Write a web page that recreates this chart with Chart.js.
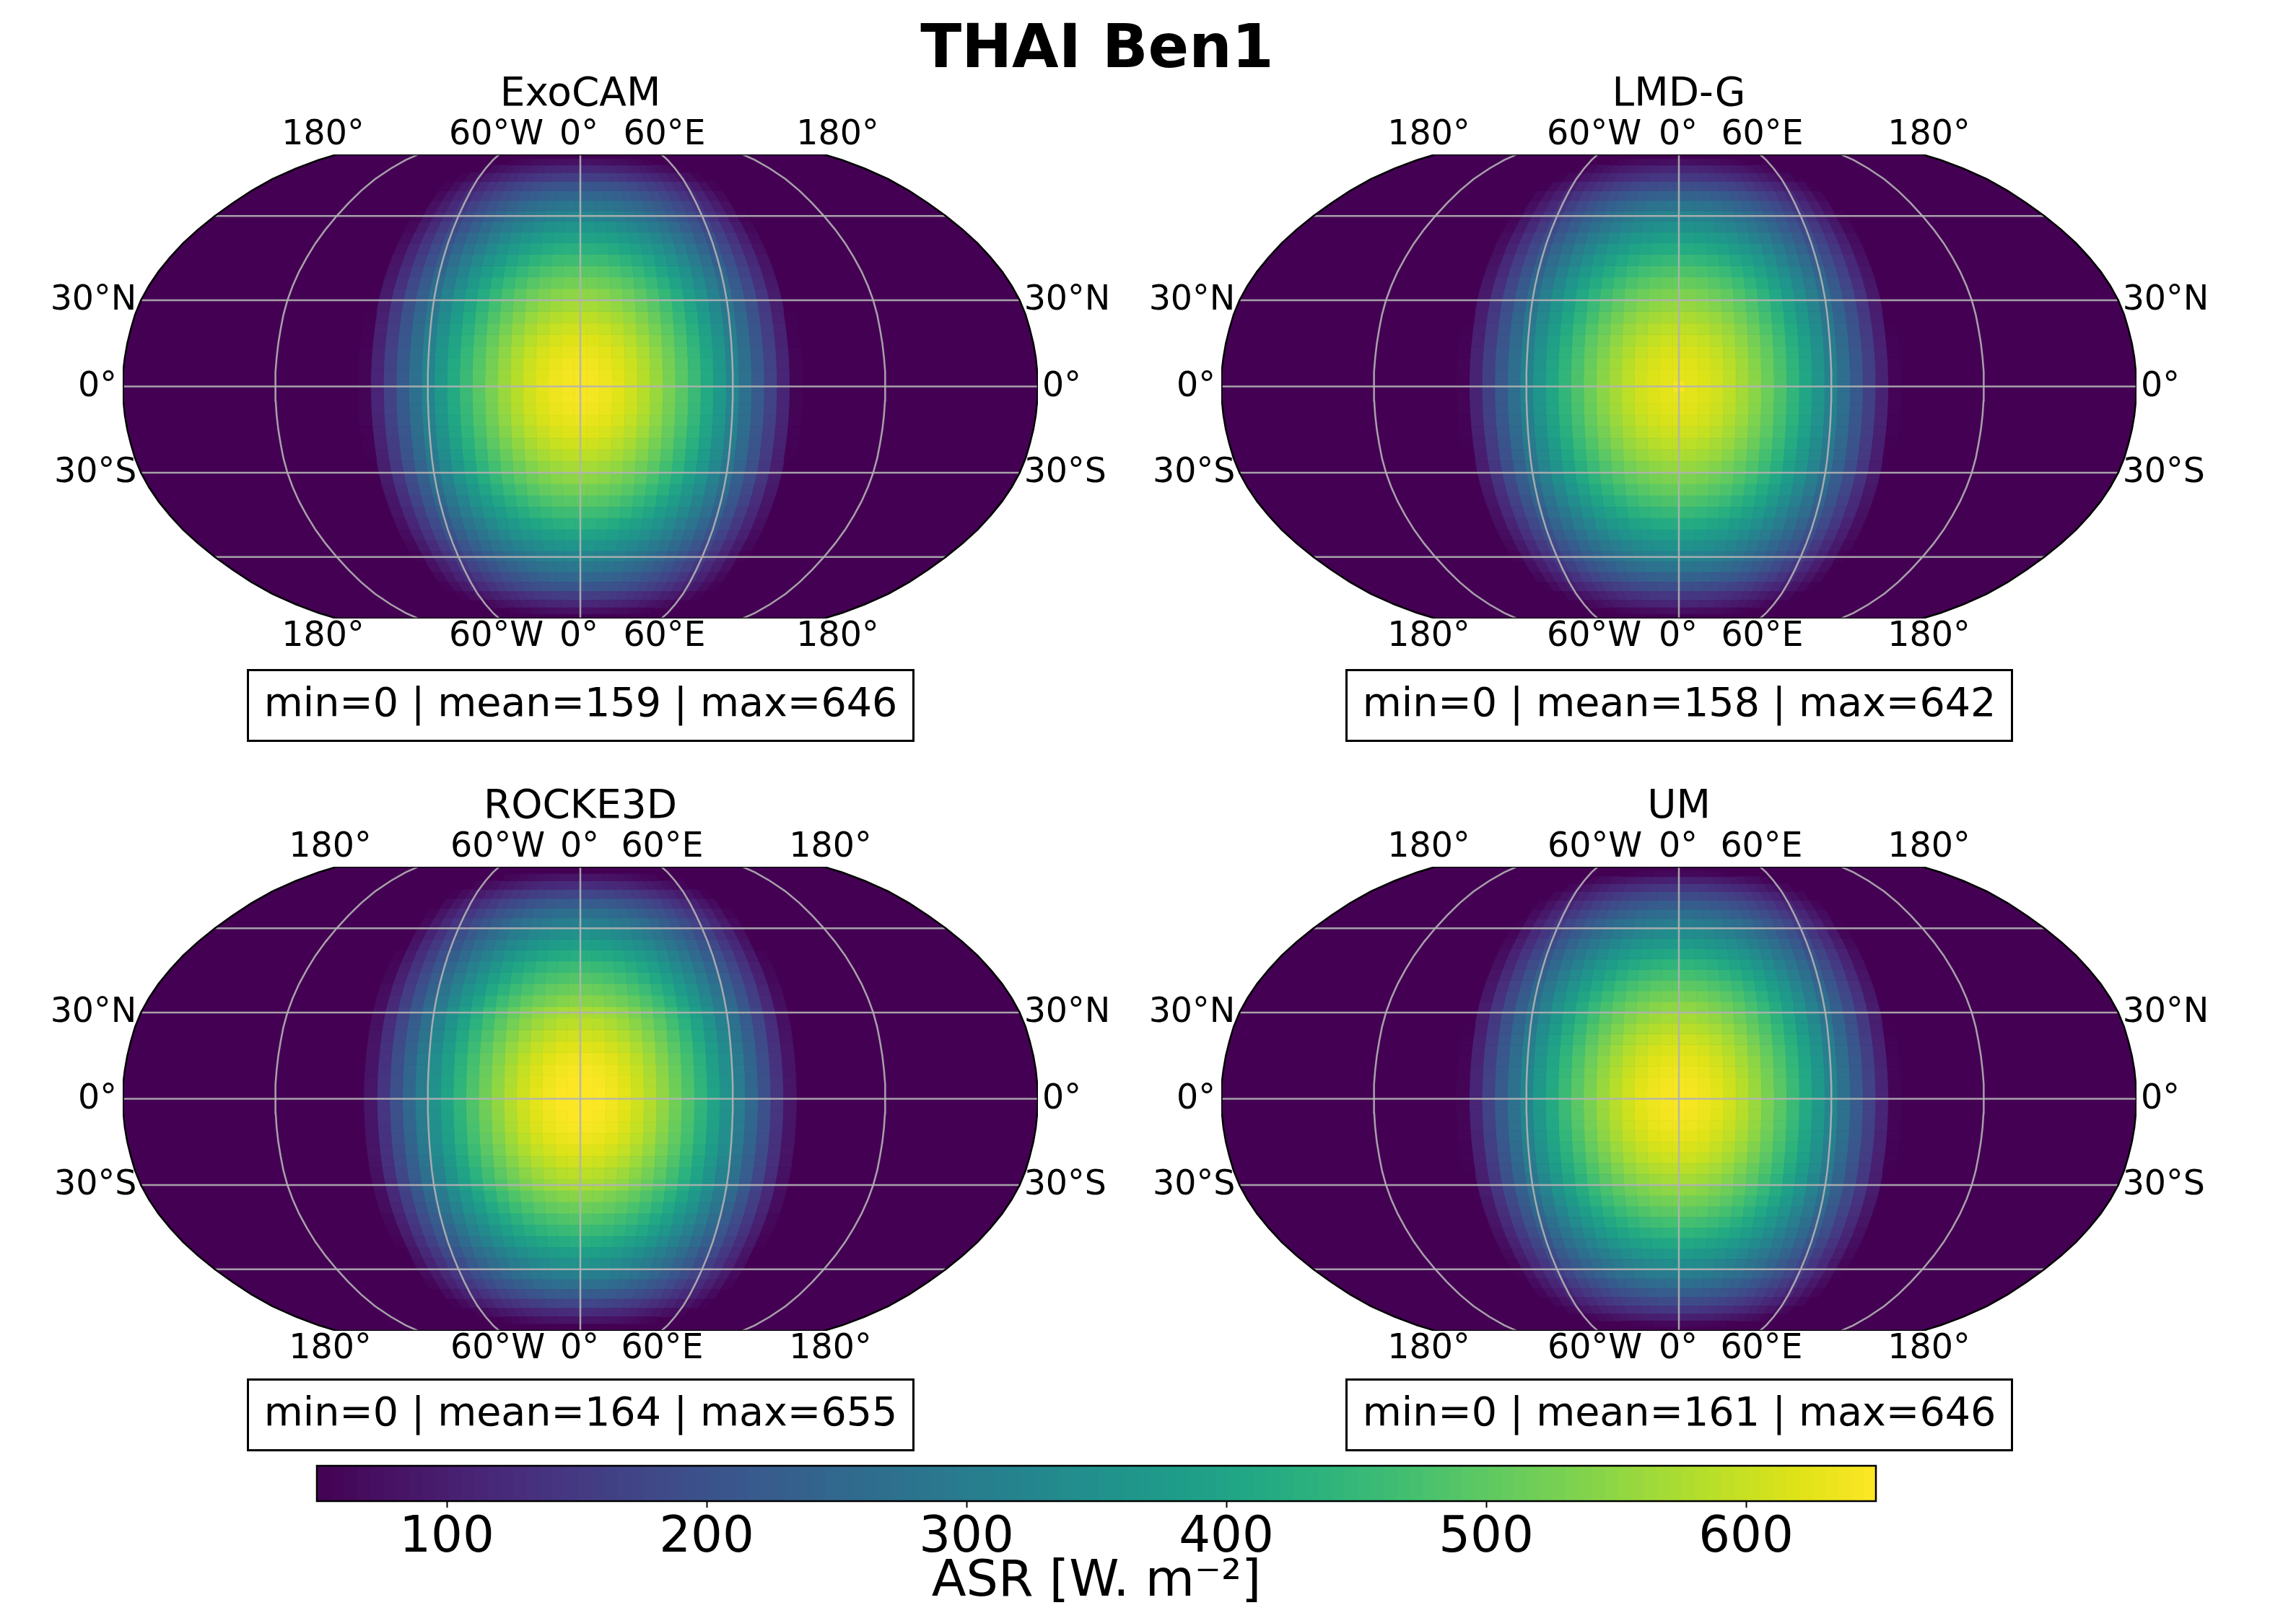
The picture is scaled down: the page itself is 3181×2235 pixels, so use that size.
<!DOCTYPE html>
<html>
<head>
<meta charset="utf-8">
<script src="https://cdn.jsdelivr.net/npm/chart.js@4/dist/chart.umd.min.js"></script>
<style>
  body { margin: 0; background: #fff; width: 3181px; height: 2235px; overflow: hidden; font-family: "DejaVu Sans"; position: relative; }
  canvas { position: absolute; }
  .txt { position: absolute; text-align: center; color: #000; white-space: nowrap; }
  .stat { box-sizing: border-box; border: 3px solid #000; font-size: 55.5px; line-height: 86px; }
</style>
</head>
<body>
<div class="txt" style="left:0;width:3040px;top:14px;font-size:83.5px;font-weight:bold;line-height:100px">THAI Ben1</div>

<script>
// Axis values of the tables below (only one quarter of each map is listed, the maps are mirrored)
var lons5 = [0, 5, 10, 15, 20, 25, 30, 35, 40, 45, 50, 55, 60, 65, 70, 75, 80, 85];
var lats4 = [0, 4, 8, 12, 16, 20, 24, 28, 32, 36, 40, 44, 48, 52, 56, 60, 64, 68, 72, 76, 80, 84];
var rockeLons = [2.5, 7.5, 12.5, 17.5, 22.5, 27.5, 32.5, 37.5, 42.5, 47.5, 52.5, 57.5, 62.5, 67.5, 72.5, 77.5, 82.5, 87.5];
var rockeLats = [2, 6, 10, 14, 18, 22, 26, 30, 34, 38, 42, 46, 50, 54, 58, 62, 66, 70, 74, 78, 82];
var umLats = [1.875, 5.625, 9.375, 13.125, 16.875, 20.625, 24.375, 28.125, 31.875, 35.625, 39.375, 43.125, 46.875, 50.625, 54.375, 58.125, 61.875, 65.625, 69.375, 73.125, 76.875, 80.625, 84.375];

// ASR, one row per latitude, missing cells are below the colour range
var asrExoCAM = [
  [646,643,636,624,607,585,559,529,495,457,415,371,323,273,221,167,112,56],
  [644,641,634,622,605,583,558,527,493,455,414,370,322,272,220,167,112,56],
  [640,637,630,618,602,580,554,524,490,452,412,367,320,271,219,166,111,56],
  [632,629,623,611,594,573,547,518,484,447,406,363,316,267,216,164,110,55],
  [621,619,612,600,584,563,538,509,476,439,399,356,311,263,212,161,108,54],
  [607,605,598,586,571,550,526,497,465,429,390,348,304,257,208,157,106,53],
  [590,588,581,570,555,535,511,483,452,417,379,339,295,250,202,153,103,51],
  [570,568,561,551,536,516,494,467,437,403,367,327,285,241,195,148,99],
  [548,546,540,529,515,496,475,449,420,387,352,315,274,232,187,142,95],
  [523,521,515,505,492,474,453,428,401,370,336,300,262,221,179,135,91],
  [495,493,488,478,465,448,429,405,379,350,318,284,248,209,169,128,86],
  [465,463,458,449,437,421,403,381,356,329,299,267,233,197,159,120,81],
  [432,430,426,417,406,391,374,354,331,305,278,248,216,183,148,112,75],
  [398,396,392,384,374,361,345,326,305,281,256,228,199,168,136,103,69],
  [361,360,356,349,339,327,313,296,277,255,232,207,181,153,123,94,63],
  [323,322,318,312,304,293,280,265,247,228,208,185,162,137,110,84,56],
  [290,288,285,279,272,262,250,237,222,205,186,166,145,122,99,75],
  [250,248,246,241,235,226,216,204,191,177,161,143,125,106,85,65],
  [212,210,208,204,199,192,183,173,162,150,136,122,106,90,72,55],
  [160,159,158,155,150,145,139,131,122,113,103,92,80,68,55],
  [118,118,116,114,111,107,102,97,90,83,76,68,59],
  [78,78,77,75,73,71,68,64,60,55]
];
var asrLMDG = [
  [642,626,619,608,591,569,545,515,482,445,405,362,315,266,216,163,110,55],
  [627,624,617,606,589,567,544,514,480,443,404,361,314,265,215,163,109,55],
  [623,620,613,602,586,564,540,511,477,440,402,358,312,264,214,162,108,55],
  [615,613,607,595,578,559,533,505,471,435,396,354,308,260,211,160,107,54],
  [605,603,596,584,568,549,524,496,464,427,389,347,303,256,207,157,105,53],
  [591,589,582,570,557,536,513,484,453,417,380,339,296,250,203,153,103,52],
  [574,572,566,556,541,521,498,470,440,406,369,330,287,243,197,149,100,50],
  [556,554,547,537,522,503,481,455,425,393,358,319,277,235,190,144,96],
  [534,532,526,515,502,483,463,437,409,377,343,307,267,226,182,138,92],
  [510,508,502,492,479,462,441,417,391,361,327,292,255,216,174,131,88],
  [482,480,475,466,453,436,417,395,369,341,310,276,241,204,165,124,83],
  [453,451,446,437,425,410,393,371,347,320,291,260,227,192,155,117,79],
  [420,418,415,406,396,381,365,345,322,297,270,242,211,178,144,109,74],
  [388,386,382,374,365,352,336,318,297,273,249,222,194,164,132,100,68],
  [352,351,347,340,330,319,305,288,270,248,226,202,176,149,120,91,62],
  [321,320,316,310,302,291,278,263,245,227,207,184,161,136,109,83,56],
  [284,283,280,274,267,257,246,233,218,201,183,163,142,120,97,74],
  [241,240,237,233,226,218,209,197,184,170,155,138,120,101,82,63],
  [195,194,192,188,183,176,169,160,149,137,125,112,97,82,67,51],
  [148,147,146,143,139,134,128,121,113,104,95,85,74,63,51],
  [113,113,111,109,106,102,98,93,87,80,73,65,57],
  [75,75,74,72,70,68,65,61,57,53]
];
var asrROCKE3D = [
  [654,649,639,625,605,581,552,519,483,443,399,352,303,251,197,141,86],
  [650,645,635,621,602,577,549,516,480,440,396,350,301,249,196,141,85],
  [644,639,630,615,596,572,544,511,475,436,393,346,298,247,194,139,84],
  [635,630,621,607,588,564,536,504,469,430,387,342,294,244,191,137,83],
  [622,617,608,594,576,553,525,494,459,421,379,335,288,239,188,135,82],
  [606,602,592,579,561,538,512,481,447,410,370,326,280,232,183,131,80],
  [588,584,575,562,544,522,497,467,434,398,359,316,272,226,177,127,77],
  [572,568,559,547,530,509,483,455,422,387,349,307,265,219,173,123,75],
  [542,538,530,518,502,482,458,431,400,367,331,292,251,208,163,117,71],
  [515,511,504,492,477,458,435,409,380,349,314,277,238,198,155,111,68],
  [487,483,475,465,450,432,411,386,359,329,297,262,225,187,147,105,64],
  [458,454,447,437,423,407,387,364,337,310,279,246,212,175,138,99,60],
  [424,420,414,405,392,376,358,337,312,287,258,228,197,162,128,92,55],
  [388,385,379,370,359,344,328,307,286,262,236,209,179,148,117,84,50],
  [353,350,345,337,327,313,298,280,261,239,215,189,163,135,106,76],
  [310,307,303,296,287,275,262,246,228,210,189,167,143,119,93,67],
  [270,268,264,258,250,240,228,214,199,183,165,145,125,104,81,58],
  [225,223,220,215,208,200,190,179,166,152,137,121,104,86,67],
  [176,174,172,168,163,157,149,140,130,119,107,95,82,67,53],
  [126,125,123,120,117,112,107,100,93,85,77,68,58],
  [84,83,82,80,78,75,71,67,62,57]
];
var asrUM = [
  [646,643,636,624,607,585,559,529,495,457,415,371,323,273,221,167,112,56],
  [643,640,633,621,604,583,557,527,493,455,413,369,322,272,220,167,112,56],
  [637,634,627,615,599,577,552,522,488,450,410,366,319,269,218,165,111,55],
  [629,626,620,608,591,570,545,515,482,445,404,361,315,266,215,163,109,55],
  [618,616,609,597,581,560,535,506,473,437,397,355,309,261,211,160,108,54],
  [605,603,596,584,569,548,524,495,463,428,389,347,303,256,207,157,105,53],
  [588,586,579,568,553,533,509,482,450,416,378,338,294,249,201,152,102,51],
  [570,568,561,551,536,516,494,467,437,403,367,327,285,241,195,148,99],
  [549,547,541,530,516,497,475,450,421,388,353,315,275,232,188,142,96],
  [525,523,517,507,494,476,455,430,402,371,338,301,263,222,180,136,91],
  [500,498,493,483,470,453,433,410,383,354,322,287,250,212,171,130,87],
  [471,469,464,455,443,427,408,386,361,333,303,270,236,199,161,122,82],
  [442,440,435,427,415,400,383,362,339,312,284,254,221,187,151,114,77],
  [410,408,404,396,385,371,355,336,314,290,264,235,205,173,140,106,71],
  [376,374,370,363,353,341,326,308,288,266,242,216,188,159,129,97,65],
  [341,340,336,329,321,309,295,279,261,241,219,196,171,144,117,88,59],
  [305,304,300,295,287,276,264,250,234,216,196,175,153,129,104,79,53],
  [267,266,263,258,251,242,231,219,205,189,172,153,134,113,91,69],
  [228,227,225,220,214,207,197,187,175,161,147,131,114,96,78,59],
  [187,186,184,181,176,169,162,153,143,132,120,107,94,79,64],
  [147,146,145,142,138,133,127,120,113,104,95,84,74,62],
  [105,105,103,101,99,95,91,86,80,74,68,60,53],
  [63,63,62,61,59,57,55,52]
];

var gridLats = [-60, -30, 0, 30, 60];
var gridLons = [-120, -60, 0, 60, 120];
var cbTicks = [100, 200, 300, 400, 500, 600];
var vmin = 50, vmax = 650;

// Robinson table, every 5 degrees from the equator to the pole
var robX = [1, .9986, .9954, .99, .9822, .973, .96, .9427, .9216, .8962, .8679, .835, .7986, .7597, .7186, .6732, .6213, .5722, .5322];
var robY = [0, .062, .124, .186, .248, .31, .372, .434, .4958, .5571, .6176, .6769, .7346, .7903, .8435, .8936, .9394, .9761, 1];

var viridis = ['#440154','#471365','#482475','#463480','#414487','#3b528b','#355f8d','#2f6c8e','#2a788e','#25848e','#21918c','#1e9c89','#22a884','#2fb47c','#44bf70','#5ec962','#7ad151','#9bd93c','#bddf26','#dfe318','#fde725'];

function hex(c) { return [parseInt(c.substr(1, 2), 16), parseInt(c.substr(3, 2), 16), parseInt(c.substr(5, 2), 16)]; }

function colourOf(v) {
    var t = Math.max(0, Math.min(1, (v - vmin) / (vmax - vmin))) * (viridis.length - 1);
    var i = Math.min(Math.floor(t), viridis.length - 2), f = t - i;
    var a = hex(viridis[i]), b = hex(viridis[i + 1]);
    return 'rgb(' + [0, 1, 2].map(function (k) { return Math.round(a[k] + (b[k] - a[k]) * f); }).join(',') + ')';
}

function robinson(lon, lat) {
    var p = Math.min(Math.abs(lat) / 5, 17.999), i = Math.floor(p), f = p - i;
    var px = robX[i] + (robX[i + 1] - robX[i]) * f;
    var py = robY[i] + (robY[i + 1] - robY[i]) * f;
    return { x: px * lon / 180, y: lat < 0 ? -py : py };
}

// Builds the cells of a whole map from its quarter table
function buildCells(rows, lons, lats, dLon, dLat) {
    var cells = [];
    rows.forEach(function (row, j) {
        row.forEach(function (v, i) {
            [1, -1].forEach(function (sy) {
                if (sy < 0 && lats[j] === 0) return;
                [1, -1].forEach(function (sx) {
                    if (sx < 0 && lons[i] === 0) return;
                    var lon = sx * lons[i], lat = sy * lats[j];
                    var c = robinson(lon, lat);
                    cells.push({ x: c.x, y: c.y, v: v, lon: lon, lat: lat, dLon: dLon / 2, dLat: dLat / 2 });
                });
            });
        });
    });
    return cells;
}

function latLine(lat) {
    var pts = [];
    for (var lon = -180; lon <= 180; lon += 60) pts.push(robinson(lon, lat));
    return pts;
}
function lonLine(lon) {
    var pts = [];
    for (var lat = -90; lat <= 90; lat += 5) pts.push(robinson(lon, lat));
    return pts;
}
function outline() {
    return lonLine(-180).concat(lonLine(180).reverse(), [robinson(-180, -90)]);
}

// Draws the dark disc and the cells under the grid lines
var cellPlugin = {
    id: 'cellPlugin',
    beforeDatasetsDraw: function (chart) {
        var ctx = chart.ctx, sx = chart.scales.x, sy = chart.scales.y;
        function pt(lon, lat) {
            var p = robinson(lon, Math.max(-90, Math.min(90, lat)));
            return [sx.getPixelForValue(p.x), sy.getPixelForValue(p.y)];
        }
        ctx.save();
        ctx.beginPath();
        chart.data.datasets[1].data.forEach(function (p, i) {
            var x = sx.getPixelForValue(p.x), y = sy.getPixelForValue(p.y);
            if (i === 0) ctx.moveTo(x, y); else ctx.lineTo(x, y);
        });
        ctx.fillStyle = colourOf(0);
        ctx.fill();
        ctx.lineWidth = 0.8;
        chart.data.datasets[0].data.forEach(function (c) {
            var col = colourOf(c.v);
            var a = pt(c.lon - c.dLon, c.lat - c.dLat), b = pt(c.lon + c.dLon, c.lat - c.dLat);
            var d = pt(c.lon + c.dLon, c.lat + c.dLat), e = pt(c.lon - c.dLon, c.lat + c.dLat);
            ctx.beginPath();
            ctx.moveTo(a[0], a[1]); ctx.lineTo(b[0], b[1]); ctx.lineTo(d[0], d[1]); ctx.lineTo(e[0], e[1]);
            ctx.closePath();
            ctx.fillStyle = col; ctx.strokeStyle = col;
            ctx.fill(); ctx.stroke();
        });
        ctx.restore();
    }
};

// The cartopy style labels round the map
function labelPlugin(dx) {
    var topLabels = [['180\u00b0', -180], ['60\u00b0W', -60], ['0\u00b0', 0], ['60\u00b0E', 60], ['180\u00b0', 180]];
    var sideLabels = [['30\u00b0N', 30], ['0\u00b0', 0], ['30\u00b0S', -30]];
    return {
        id: 'labelPlugin',
        afterDraw: function (chart) {
            var ctx = chart.ctx, sx = chart.scales.x, sy = chart.scales.y;
            ctx.save();
            ctx.fillStyle = '#000';
            ctx.font = '47.5px "DejaVu Sans"';
            ctx.textBaseline = 'middle';
            ctx.textAlign = 'center';
            topLabels.forEach(function (l, i) {
                var p = robinson(l[1], 90), x = sx.getPixelForValue(p.x) + dx[i];
                ctx.fillText(l[0], x, sy.getPixelForValue(1) - 26);
                ctx.fillText(l[0], x, sy.getPixelForValue(-1) + 26);
            });
            sideLabels.forEach(function (l) {
                var p = robinson(180, l[1]), y = sy.getPixelForValue(p.y) + 1;
                ctx.textAlign = 'right';
                ctx.fillText(l[0], sx.getPixelForValue(-p.x) - (l[1] === 0 ? 8 : 6), y);
                ctx.textAlign = 'left';
                ctx.fillText(l[0], sx.getPixelForValue(p.x) + (l[1] === 0 ? 6 : 6), y);
            });
            ctx.restore();
        }
    };
}

function makePanel(opt) {
    var cv = document.createElement('canvas');
    var padX = 110, w = 1268 + 2 * padX, h = 830;
    var left = opt.cx - 634 - padX, top = opt.cy - 321.5 - 124;
    cv.width = w; cv.height = h;
    cv.style.left = left + 'px'; cv.style.top = top + 'px';
    document.body.appendChild(cv);

    var datasets = [
        { data: buildCells(opt.rows, opt.lons, opt.lats, opt.dLon, opt.dLat), pointRadius: 0, showLine: false },
        { data: outline(), pointRadius: 0, showLine: true, borderColor: '#000', borderWidth: 2.5, fill: false, tension: 0 }
    ];
    gridLats.forEach(function (lat) {
        datasets.push({ data: latLine(lat), pointRadius: 0, showLine: true, borderColor: 'rgba(178,178,178,0.9)', borderWidth: 2.5 });
    });
    gridLons.forEach(function (lon) {
        datasets.push({ data: lonLine(lon), pointRadius: 0, showLine: true, borderColor: 'rgba(178,178,178,0.9)', borderWidth: 2.5 });
    });

    new Chart(cv, {
        type: 'scatter',
        data: { datasets: datasets },
        options: {
            responsive: false,
            animation: false,
            devicePixelRatio: 1,
            events: [],
            layout: { padding: { left: padX, right: padX, top: 0, bottom: h - 124 - 643 } },
            plugins: {
                legend: { display: false },
                tooltip: { enabled: false },
                title: {
                    display: true,
                    text: opt.title,
                    color: '#000',
                    font: { family: '"DejaVu Sans"', size: 55, weight: 'normal', lineHeight: 1.2 },
                    padding: { top: 9, bottom: 124 - 9 - 66 }
                }
            },
            scales: {
                x: { type: 'linear', min: -1, max: 1, display: false },
                y: { type: 'linear', min: -1, max: 1, display: false }
            }
        },
        plugins: [cellPlugin, labelPlugin(opt.dx)]
    });

    var box = document.createElement('div');
    box.className = 'txt stat';
    box.textContent = opt.stat;
    box.style.left = (opt.cx - 462) + 'px';
    box.style.width = '925px';
    box.style.top = opt.boxTop + 'px';
    box.style.height = '101px';
    document.body.appendChild(box);
}

makePanel({ title: 'ExoCAM', stat: 'min=0 | mean=159 | max=646', rows: asrExoCAM, lons: lons5, lats: lats4, dLon: 5, dLat: 4, cx: 804, cy: 535.5, boxTop: 927, dx: [-19, -4, -2, 4, 19] });
makePanel({ title: 'LMD-G', stat: 'min=0 | mean=158 | max=642', rows: asrLMDG, lons: lons5, lats: lats4, dLon: 5, dLat: 4, cx: 2326, cy: 535.5, boxTop: 927, dx: [-9, -5, -1, 3, 9] });
makePanel({ title: 'ROCKE3D', stat: 'min=0 | mean=164 | max=655', rows: asrROCKE3D, lons: rockeLons, lats: rockeLats, dLon: 5, dLat: 4, cx: 804, cy: 1522.5, boxTop: 1910, dx: [-9, -2, -1, 1, 9] });
makePanel({ title: 'UM', stat: 'min=0 | mean=161 | max=646', rows: asrUM, lons: lons5, lats: umLats, dLon: 5, dLat: 3.75, cx: 2326, cy: 1522.5, boxTop: 1910, dx: [-9, -4, -1, 2, 9] });

// Colour bar, one floating bar per colour step on a real value axis
var cbCanvas = document.createElement('canvas');
cbCanvas.width = 2360; cbCanvas.height = 215;
cbCanvas.style.left = '339px'; cbCanvas.style.top = '2020px';
document.body.appendChild(cbCanvas);

var cbSets = [];
for (var lv = vmin; lv < vmax; lv += 5) {
    cbSets.push({ data: [[lv, lv + 5.5]], backgroundColor: colourOf(lv + 2.5), borderWidth: 0, barPercentage: 1, categoryPercentage: 1, grouped: false });
}

new Chart(cbCanvas, {
    type: 'bar',
    data: { labels: ['ASR'], datasets: cbSets },
    options: {
        indexAxis: 'y',
        responsive: false,
        animation: false,
        devicePixelRatio: 1,
        events: [],
        layout: { padding: { left: 100, right: 100, top: 11, bottom: 0 } },
        plugins: { legend: { display: false }, tooltip: { enabled: false } },
        scales: {
            x: {
                type: 'linear',
                min: vmin,
                max: vmax,
                afterFit: function (s) { s.height = 155; },
                afterBuildTicks: function (s) { s.ticks = cbTicks.map(function (v) { return { value: v }; }); },
                grid: { drawOnChartArea: false, drawTicks: true, tickLength: 9, tickWidth: 2, tickColor: '#000' },
                border: { display: false },
                ticks: { color: '#000', font: { family: '"DejaVu Sans"', size: 69 }, maxRotation: 0, padding: 2, includeBounds: false },
                title: { display: true, text: 'ASR [W. m\u207b\u00b2]', color: '#000', font: { family: '"DejaVu Sans"', size: 70 }, padding: { top: 0, bottom: 0 } }
            },
            y: { display: false }
        }
    },
    plugins: [{
        id: 'cbFrame',
        afterDraw: function (chart) {
            var a = chart.chartArea, ctx = chart.ctx;
            ctx.save();
            ctx.strokeStyle = '#000';
            ctx.lineWidth = 2.5;
            ctx.strokeRect(a.left, a.top, a.right - a.left, a.bottom - a.top);
            ctx.restore();
        }
    }]
});
</script>
</body>
</html>
